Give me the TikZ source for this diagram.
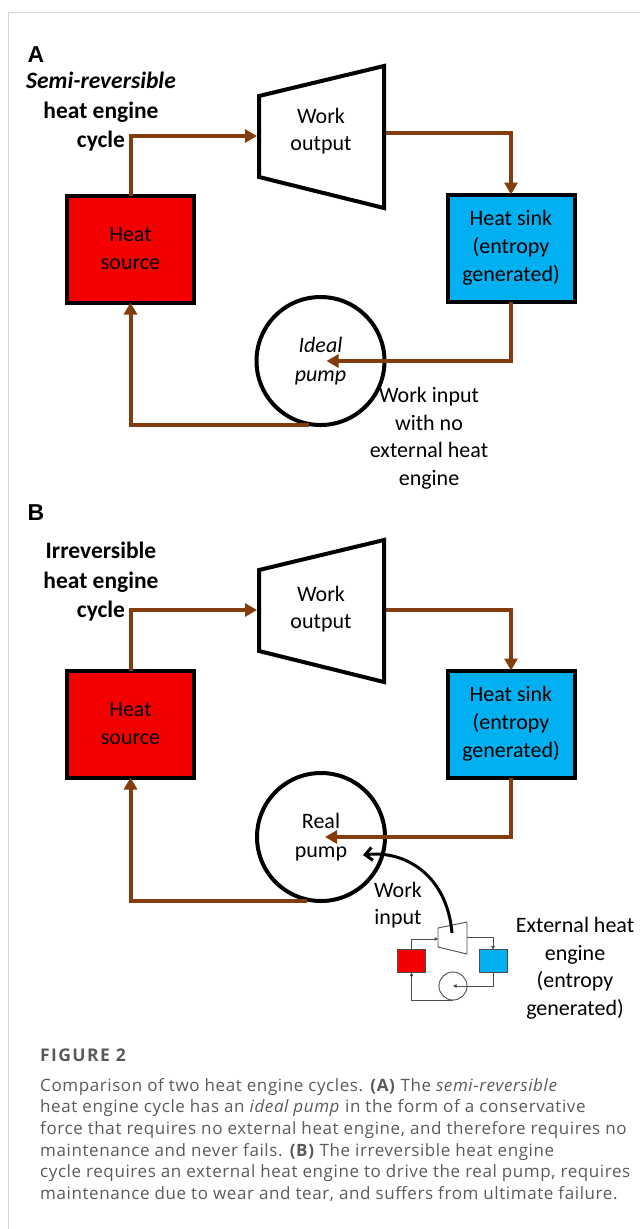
\documentclass[tikz,border=0pt]{standalone}
\usepackage{fontspec}
\setmainfont{Carlito}
\newfontfamily\panelfont{Liberation Sans}
\newfontfamily\capfont[LetterSpace=3.5]{Open Sans}
\newfontfamily\figfont[LetterSpace=8]{Open Sans}
\usepackage{xcolor}
\usepackage{tikz}
\usetikzlibrary{arrows.meta}
\definecolor{flowbrown}{HTML}{843C0C}
\definecolor{srcred}{HTML}{F50000}
\definecolor{sinkblue}{HTML}{00B0F0}
\definecolor{capgray}{HTML}{5A5A5A}
\definecolor{framegray}{HTML}{D4D4D4}
\tikzstyle{flow} = [-{Triangle[length=12pt,width=13pt]}, flowbrown, line width=4pt]
\tikzstyle{thinflow} = [-{Triangle[length=3.5pt,width=3.5pt]}, black!70, line width=0.9pt]
\tikzstyle{box} = [draw, line width=4pt, inner sep=0pt, outer sep=0pt, minimum width=127pt, minimum height=107pt, align=center, font=\fontsize{22}{28}\selectfont]
\tikzstyle{minibox} = [draw=black!70, line width=0.9pt, inner sep=0pt, outer sep=0pt, minimum width=28pt, minimum height=23pt]
\tikzstyle{pumpc} = [draw, circle, fill=white, line width=4pt, inner sep=0pt, outer sep=0pt, minimum size=128pt, align=center, font=\fontsize{22}{29}\selectfont]
\tikzstyle{turb} = [draw, line width=4pt, line join=miter]
\tikzstyle{lbl} = [align=center, inner sep=0pt, font=\fontsize{22}{27.5}\selectfont]
\tikzstyle{title} = [align=center, inner sep=0pt, font=\fontsize{23.5}{29.5}\selectfont\bfseries]
\tikzstyle{panel} = [inner sep=0pt, font=\fontsize{23}{27}\selectfont\panelfont\bfseries]

\begin{document}
\begin{tikzpicture}[x=1pt, y=-1pt]
	\useasboundingbox (0,0) rectangle (640,1229);
	\draw [framegray, line width=1pt] (8,1229) -- (8,12) -- (640,12);

	\node [panel] (labA) at (36,55) {A};
	\node [title] (titA) at (101,112) {\textit{Semi-reversible}\\heat engine\\cycle};
	\node [box, fill=srcred] (srcA) at (130.5,249) {Heat\\source};
	\node [box, fill=sinkblue] (snkA) at (511,248) {Heat sink\\(entropy\\generated)};
	\draw [turb] (259,96) -- (384,66) -- (384,208) -- (259,177) -- cycle;
	\node [lbl] (wrkA) at (321,131) {Work\\output};
	\coordinate (inA) at (257,136);
	\coordinate (outA) at (386,133);
	\node [pumpc] (pmpA) at (320.5,361) {\textit{Ideal}\\\textit{pump}};
	\node [lbl] (wiA) at (429,438) {Work input\\with no\\external heat\\engine};

	\draw [flow] (srcA) |- (inA);
	\draw [flow] (outA) -| (snkA);
	\draw [flow] (snkA) |- ([xshift=6pt]pmpA.center);
	\draw [flow] ([xshift=-12pt]pmpA.south) -| (srcA);

	\node [panel] (labB) at (36,513) {B};
	\node [title] (titB) at (101,582) {Irreversible\\heat engine\\cycle};
	\node [box, fill=srcred] (srcB) at (130.5,724) {Heat\\source};
	\node [box, fill=sinkblue] (snkB) at (511,724) {Heat sink\\(entropy\\generated)};
	\draw [turb] (259,570) -- (384,540) -- (384,682) -- (259,651) -- cycle;
	\node [lbl] (wrkB) at (321,609) {Work\\output};
	\coordinate (inB) at (257,610);
	\coordinate (outB) at (386,610);
	\node [pumpc] (pmpB) at (321,837) {Real\\pump};
	\node [lbl] (wiB) at (398,905) {Work\\input};

	\draw [flow] (srcB) |- (inB);
	\draw [flow] (outB) -| (snkB);
	\draw [flow] (snkB) |- ([xshift=4pt]pmpB.center);
	\draw [flow] ([xshift=-14pt]pmpB.south) -| (srcB);

	\node [minibox, fill=srcred] (xsrc) at (411.5,961) {};
	\node [minibox, fill=sinkblue] (xsnk) at (493,961) {};
	\node [draw=black!70, circle, line width=0.9pt, inner sep=0pt, outer sep=0pt, minimum size=28pt] (xpmp) at (453,986) {};
	\draw [draw=black!70, line width=0.9pt] (438,928) -- (467,922) -- (467,954) -- (438,947) -- cycle;
	\coordinate (xin) at (438,939);
	\coordinate (xout) at (467,937);
	\coordinate (xshaft) at (452,933);
	\coordinate (wtip) at (363,855);
	\node [lbl] (xlbl) at (575,968) {External heat\\engine\\(entropy\\generated)};

	\draw [thinflow] (xsrc) |- (xin);
	\draw [thinflow] (xout) -| (xsnk);
	\draw [thinflow] (xsnk) |- (xpmp.center);
	\draw [thinflow] (xpmp.south) -| (xsrc);
	\draw [-{Straight Barb[length=7pt,width=13pt]}, line width=3pt] (xshaft) .. controls (447,875) and (405,850) .. (wtip);

	\node [anchor=base west, inner sep=0pt, text=capgray, font=\fontsize{17.5}{20}\selectfont\figfont\bfseries] (figno) at (40,1061.5) {FIGURE 2};
	\node [anchor=north west, inner sep=0pt, align=left, text=capgray, font=\fontsize{17}{21.6}\selectfont\capfont] (cap) at (40,1078) {Comparison of two heat engine cycles. \textbf{(A)} The \textit{semi-reversible}\\heat engine cycle has an \textit{ideal pump} in the form of a conservative\\force that requires no external heat engine, and therefore requires no\\maintenance and never fails. \textbf{(B)} The irreversible heat engine\\cycle requires an external heat engine to drive the real pump, requires\\maintenance due to wear and tear, and suffers from ultimate failure.};
\end{tikzpicture}
\end{document}
